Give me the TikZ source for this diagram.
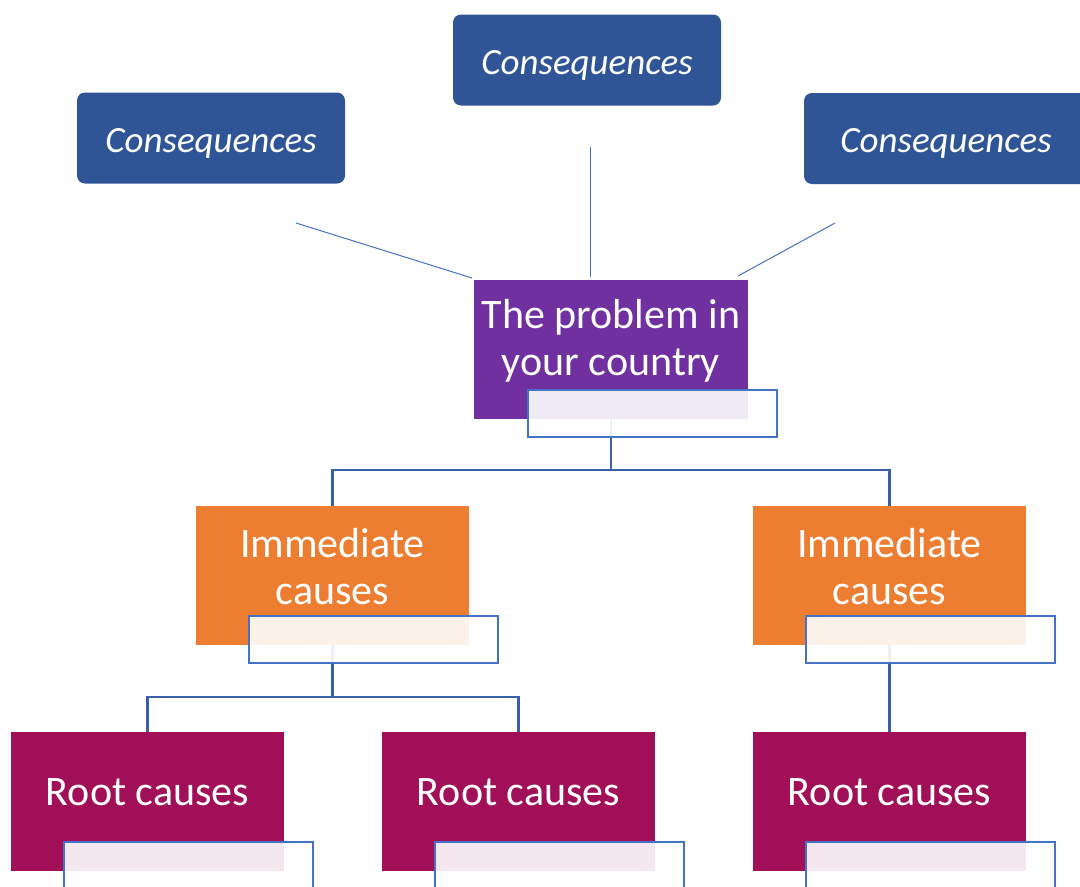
\documentclass[tikz,border=0pt]{standalone}
\usepackage{fontspec}
\setmainfont{Carlito}
\usepackage{tikz}
\usetikzlibrary{positioning}

\definecolor{consblue}{HTML}{2F5597}
\definecolor{probpurple}{HTML}{7030A0}
\definecolor{immorange}{HTML}{ED7D31}
\definecolor{rootred}{HTML}{A10F59}
\definecolor{linkblue}{HTML}{4472C4}
\definecolor{treeblue}{HTML}{3B5FA8}

\newcommand{\bigtxt}{\fontsize{42}{47}\selectfont}
\newcommand{\constxt}{\fontsize{37}{42}\selectfont\itshape}

\begin{document}
\begin{tikzpicture}[
    x=1pt, y=-1pt,
    cons/.style={fill=consblue, rounded corners=8pt, minimum width=268pt,
      minimum height=91pt, inner sep=0pt},
    constxt/.style={text=white, font=\constxt, yshift=-5pt},
    probbox/.style={fill=probpurple, minimum width=274pt, minimum height=139pt,
      inner sep=0pt},
    immbox/.style={fill=immorange, minimum width=273pt, minimum height=139pt,
      inner sep=0pt},
    rootbox/.style={fill=rootred, minimum width=273pt, minimum height=139pt,
      inner sep=0pt},
    boxtxt/.style={text=white, font=\bigtxt, align=center, yshift=9pt},
    notebox/.style={draw=linkblue, line width=2pt, fill=white, fill opacity=0.9,
      minimum width=249pt, minimum height=47pt, inner sep=0pt},
    link/.style={linkblue, line width=1pt},
    tree/.style={treeblue, line width=2.5pt}
  ]
    \clip (0,0) rectangle (1080,887);
    % consequences on top
    \node[cons, label={[constxt]center:Consequences}]
      (cons-left)  at (211,138) {};
    \node[cons, label={[constxt]center:Consequences}]
      (cons-mid)   at (587,60) {};
    \node[cons, minimum width=284pt, label={[constxt]center:Consequences}]
      (cons-right) at (946,138.5) {};
    % the problem
    \node[probbox, label={[boxtxt]center:The problem in\\your country}]
      (problem) at (611,349.5) {};
    \coordinate (c1) at (296,223);  \coordinate (p1) at (472,278);
    \coordinate (c2) at (590,147);  \coordinate (p2) at (590,277);
    \coordinate (c3) at (835,223);  \coordinate (p3) at (738,276);
    \draw[link] (c1)--(p1); \draw[link] (c2)--(p2); \draw[link] (c3)--(p3);
    % immediate causes
    \node[immbox, label={[boxtxt]center:Immediate\\causes}]
      (imm-left) at (332.5,575.5) {};
    \node[immbox, label={[boxtxt]center:Immediate\\causes}]
      (imm-right) at (889.5,575.5) {};
    % root causes
    \node[rootbox, label={[boxtxt]center:Root causes}]
      (root-a) at (147.5,801.5) {};
    \node[rootbox, label={[boxtxt]center:Root causes}]
      (root-b) at (518.5,801.5) {};
    \node[rootbox, label={[boxtxt]center:Root causes}]
      (root-c) at (889.5,801.5) {};
    % tree lines
    \coordinate (j1) at (611,470);
    \coordinate (j2) at (332.5,697);
    \draw[tree] (problem)--(j1) -| (imm-left);
    \draw[tree] (j1) -| (imm-right);
    \draw[tree] (imm-left)--(j2) -| (root-a);
    \draw[tree] (j2) -| (root-b);
    \draw[tree] (imm-right)--(root-c);
    % empty text boxes
    \node[notebox] (note-prob)  at (652.5,413.5) {};
    \node[notebox] (note-imml)  at (373.5,639.5) {};
    \node[notebox] (note-immr)  at (930.5,639.5) {};
    \node[notebox] (note-roota) at (188.5,865.5) {};
    \node[notebox] (note-rootb) at (559.5,865.5) {};
    \node[notebox] (note-rootc) at (930.5,865.5) {};
  \end{tikzpicture}
\end{document}
